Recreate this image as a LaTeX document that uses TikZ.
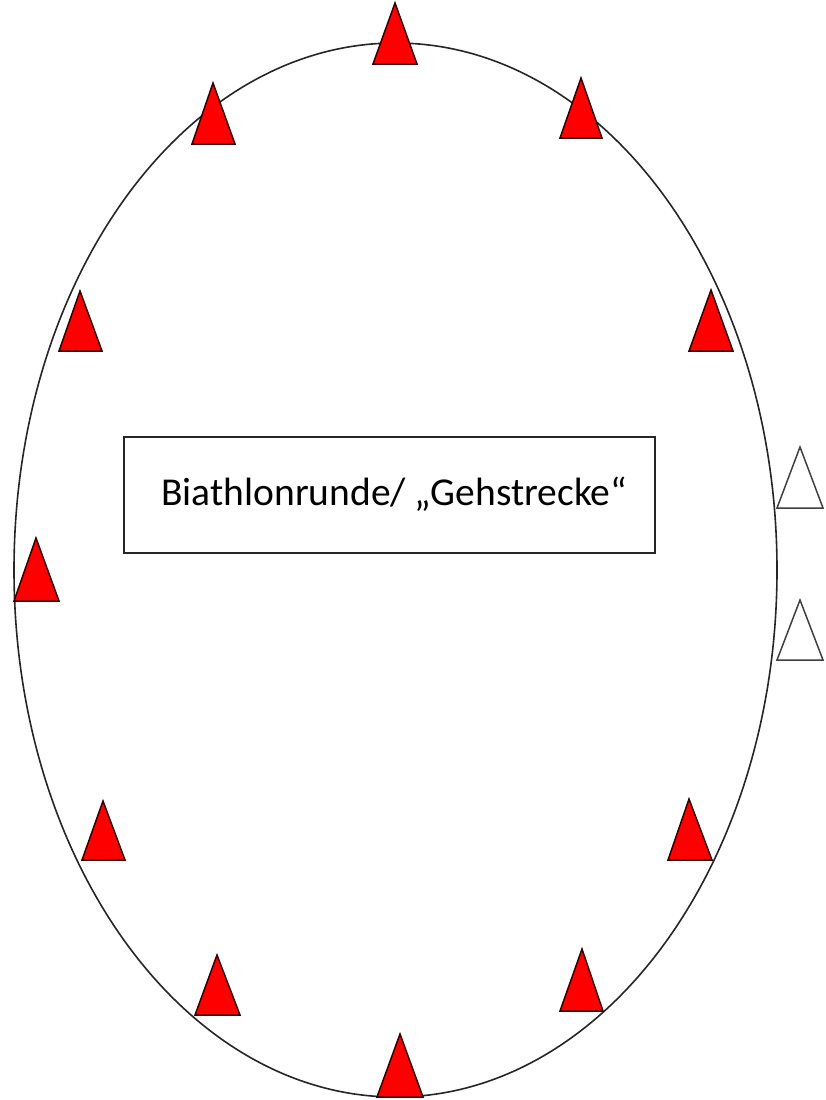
\documentclass[tikz,border=0pt]{standalone}
\usepackage{fontspec}
\setmainfont{Carlito}
\begin{document}
\begin{tikzpicture}[x=1pt,y=-1pt,
  track/.style={draw=black!85,line width=1.6pt},
  cone/.style={draw=black!80!red,fill=red,line width=1.5pt,line join=miter},
  whitecone/.style={draw=black!75,fill=white,line width=1.5pt,line join=miter},
  labelbox/.style={draw=black!85,line width=1.5pt,fill=white,minimum width=531pt,minimum height=116pt,inner sep=0pt},
  labeltext/.style={inner sep=0pt,font=\fontsize{39.5}{47}\selectfont}]
\useasboundingbox (0,0) rectangle (826,1100);
\draw[track] (395.5,570) ellipse [x radius=381.5, y radius=527];
\node[labelbox] (box) at (389.5,495) {};
\node[labeltext] (label) at (394,494) {Biathlonrunde/ „Gehstrecke“};
% red cones: apex x, apex y, base y, left x, right x
\foreach \ax/\ay/\by/\lx/\rx in {
  395/3/64/373/417,
  213/83/144/192/235,
  581/78/138/560/602,
  80/291/351/59/102,
  711/290/351/689/733,
  36/538/601/14/59,
  103/801/860/82/125,
  689/799/860/668/712,
  217/955/1015/195/240,
  582/949/1011/560/603,
  400/1034/1097/377/423}
  \draw[cone] (\ax,\ay) -- (\rx,\by) -- (\lx,\by) -- cycle;
\foreach \ay/\by in {447/508, 600/660}
  \draw[whitecone] (800,\ay) -- (823,\by) -- (777,\by) -- cycle;
\end{tikzpicture}
\end{document}
